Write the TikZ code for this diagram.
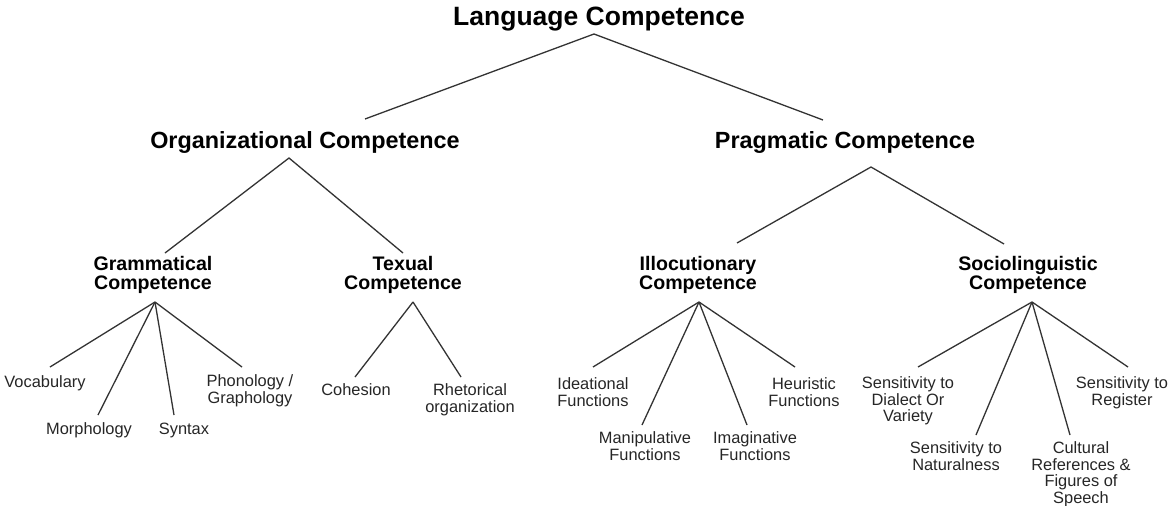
\documentclass[tikz,border=0pt]{standalone}
\usepackage{fontspec}
\setmainfont{Liberation Sans}
\begin{document}
\begin{tikzpicture}[x=1pt,y=-1pt,
  every node/.style={inner sep=0pt, outer sep=0pt, align=center},
  top/.style={font=\fontsize{26.5}{28}\selectfont\bfseries},
  mid/.style={font=\fontsize{23.4}{25}\selectfont\bfseries},
  sub/.style={font=\fontsize{19.6}{19}\selectfont\bfseries},
  leaf/.style={font=\fontsize{16.4}{16.5}\selectfont, text=black!85},
  link/.style={draw=black!80, line width=1.3pt}]
\useasboundingbox[fill=white] (0,0) rectangle (1170,506);
% level 1
\node[top] (lang) at (599,19) {Language Competence};
% level 2
\node[mid] (org) at (305,142) {Organizational Competence};
\node[mid] (pra) at (845,142) {Pragmatic Competence};
% level 3
\node[sub] (gram) at (153,275) {Grammatical\\Competence};
\node[sub] (tex)  at (403,275) {Texual\\Competence};
\node[sub] (ill)  at (698,275) {Illocutionary\\Competence};
\node[sub] (soc)  at (1028,275) {Sociolinguistic\\Competence};
% leaves
\node[leaf] (voc) at (45,383)  {Vocabulary};
\node[leaf] (mor) at (89,430)  {Morphology};
\node[leaf] (syn) at (184,430) {Syntax};
\node[leaf] (pho) at (250,391) {Phonology /\\Graphology};
\node[leaf] (coh) at (356,390) {Cohesion};
\node[leaf] (rhe) at (470,400) {Rhetorical\\organization};
\node[leaf] (ide) at (593,392) {Ideational\\Functions};
\node[leaf] (man) at (645,446) {Manipulative\\Functions};
\node[leaf] (ima) at (755,446) {Imaginative\\Functions};
\node[leaf] (heu) at (804,392) {Heuristic\\Functions};
\node[leaf] (dia) at (908,401) {Sensitivity to\\Dialect Or\\Variety};
\node[leaf] (nat) at (956,456) {Sensitivity to\\Naturalness};
\node[leaf] (cul) at (1081,474.5) {Cultural\\References \&\\Figures of\\Speech};
\node[leaf] (reg) at (1122,393) {Sensitivity to\\Register};
% connectors
\draw[link] ([shift={(60,-23)}]org.center) -- ([shift={(-5,15)}]lang.center) -- ([shift={(-22,-22)}]pra.center);
\draw[link] ([shift={(12,-22)}]gram.center) -- ([shift={(-16,16)}]org.center) -- ([shift={(0,-22)}]tex.center);
\draw[link] ([shift={(39,-32)}]ill.center) -- ([shift={(26,25)}]pra.center) -- ([shift={(-24,-31)}]soc.center);
\draw[link] ([shift={(2,27)}]gram.center) -- ([shift={(5,-16)}]voc.center);
\draw[link] ([shift={(2,27)}]gram.center) -- ([shift={(9,-15)}]mor.center);
\draw[link] ([shift={(2,27)}]gram.center) -- ([shift={(-10,-15)}]syn.center);
\draw[link] ([shift={(2,27)}]gram.center) -- ([shift={(-8,-24)}]pho.center);
\draw[link] ([shift={(10,27)}]tex.center) -- ([shift={(-1,-13)}]coh.center);
\draw[link] ([shift={(10,27)}]tex.center) -- ([shift={(-9,-23)}]rhe.center);
\draw[link] ([shift={(1,27)}]ill.center) -- ([shift={(0,-25)}]ide.center);
\draw[link] ([shift={(1,27)}]ill.center) -- ([shift={(-3,-21)}]man.center);
\draw[link] ([shift={(1,27)}]ill.center) -- ([shift={(-8,-21)}]ima.center);
\draw[link] ([shift={(1,27)}]ill.center) -- ([shift={(-9,-25)}]heu.center);
\draw[link] ([shift={(4,27)}]soc.center) -- ([shift={(10,-34)}]dia.center);
\draw[link] ([shift={(4,27)}]soc.center) -- ([shift={(20,-21)}]nat.center);
\draw[link] ([shift={(4,27)}]soc.center) -- ([shift={(-11,-39.5)}]cul.center);
\draw[link] ([shift={(4,27)}]soc.center) -- ([shift={(6,-26)}]reg.center);
\end{tikzpicture}
\end{document}
